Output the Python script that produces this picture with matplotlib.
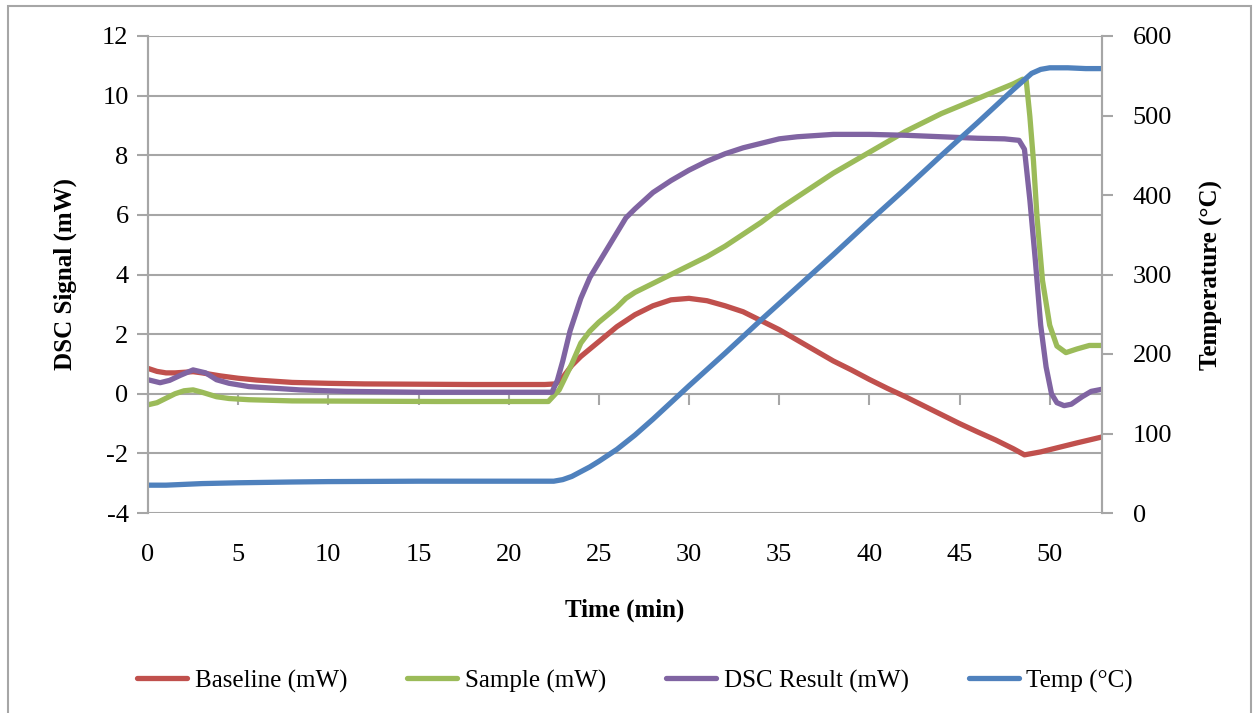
## DSC run: baseline, sample, result and furnace temperature vs time

import numpy as np
import matplotlib.pyplot as plt
from matplotlib.patches import Rectangle

plt.rcParams['font.family'] = ['Liberation Serif', 'DejaVu Serif']
plt.rcParams['axes.unicode_minus'] = False

## Data ~~~~~~~~~~~~~~~~~~~~~~~~~~~~~~~~~~~~~~~~~~~~~~~~~~~~~~~~~~~~~~~~~~~~~~~~~~~~~~

baseline_t = [0, 0.5, 1, 1.5, 2, 2.5, 3, 4, 5, 6, 8, 10, 12, 15, 18, 20, 22, 22.6,
              23, 23.5, 24, 25, 26, 27, 28, 29, 30, 31, 32, 33, 34, 35, 36, 37, 38,
              39, 40, 41, 42, 43, 44, 45, 46, 47, 48, 48.6, 49.5, 50.5, 51.5, 52.9]
baseline_mw = [0.85, 0.75, 0.7, 0.7, 0.72, 0.74, 0.7, 0.6, 0.52, 0.46, 0.38, 0.35,
               0.33, 0.32, 0.31, 0.31, 0.31, 0.33, 0.55, 0.95, 1.25, 1.75, 2.25,
               2.65, 2.95, 3.15, 3.2, 3.12, 2.95, 2.75, 2.45, 2.15, 1.8, 1.45, 1.1,
               0.8, 0.48, 0.18, -0.1, -0.4, -0.7, -1.0, -1.28, -1.55, -1.85, -2.05,
               -1.95, -1.8, -1.65, -1.45]

sample_t = [0, 0.5, 1, 1.5, 2, 2.5, 3, 3.8, 4.5, 5.6, 8, 12, 16, 20, 22.2, 22.8,
            23.5, 24, 24.5, 25, 26, 26.5, 27, 28, 29, 30, 31, 32, 33, 34, 35, 36,
            37, 38, 39, 40, 41, 42, 43, 44, 45, 46, 47, 48, 48.5, 48.7, 48.9, 49.1,
            49.3, 49.6, 50, 50.4, 50.9, 51.5, 52.2, 52.9]
sample_mw = [-0.37, -0.3, -0.15, 0.0, 0.1, 0.13, 0.05, -0.1, -0.16, -0.2, -0.24,
             -0.25, -0.26, -0.26, -0.26, 0.13, 1.0, 1.7, 2.1, 2.4, 2.9, 3.2, 3.4,
             3.7, 4.0, 4.3, 4.6, 4.95, 5.35, 5.75, 6.2, 6.6, 7.0, 7.4, 7.75, 8.1,
             8.45, 8.8, 9.1, 9.4, 9.65, 9.9, 10.15, 10.4, 10.55, 10.5, 9.3, 7.8,
             5.9, 3.8, 2.3, 1.6, 1.38, 1.5, 1.62, 1.62]

result_t = [0, 0.67, 1.2, 1.8, 2.5, 3.2, 3.8, 4.5, 5.6, 8.4, 11, 15, 20, 22.4,
            22.7, 23, 23.4, 24, 24.5, 25, 25.5, 26, 26.5, 27, 28, 29, 30, 31, 32,
            33, 34, 35, 36, 37, 38, 40, 42, 44, 46, 47.5, 48.3, 48.6, 48.9, 49.2,
            49.5, 49.8, 50.1, 50.4, 50.8, 51.2, 51.8, 52.3, 52.9]
result_mw = [0.47, 0.37, 0.45, 0.62, 0.8, 0.7, 0.47, 0.35, 0.24, 0.13, 0.08, 0.05,
             0.05, 0.05, 0.45, 1.1, 2.1, 3.2, 3.9, 4.4, 4.9, 5.4, 5.9, 6.2, 6.75,
             7.15, 7.5, 7.8, 8.05, 8.25, 8.4, 8.55, 8.62, 8.66, 8.7, 8.7, 8.67,
             8.62, 8.57, 8.55, 8.5, 8.2, 6.5, 4.5, 2.3, 0.9, 0.0, -0.3, -0.4, -0.35,
             -0.1, 0.08, 0.15]

temp_t = [0, 1, 2, 3, 5, 8, 10, 15, 20, 22.5, 23, 23.5, 24, 24.5, 25, 26, 27, 28,
          29, 30, 32, 34, 36, 38, 40, 42, 44, 46, 48, 48.5, 49, 49.5, 50, 51, 52,
          52.9]
temp_c = [35, 35, 36, 37, 38, 39, 39.5, 40, 40, 40, 42, 46, 52, 58, 65, 80, 98,
          118, 139, 160, 201, 243, 284, 325, 367, 408, 450, 491, 533, 543, 553,
          558, 560, 560, 559, 559]

x_ticks = [0, 5, 10, 15, 20, 25, 30, 35, 40, 45, 50]
mw_ticks = [-4, -2, 0, 2, 4, 6, 8, 10, 12]
temp_ticks = [0, 100, 200, 300, 400, 500, 600]

## Plot ~~~~~~~~~~~~~~~~~~~~~~~~~~~~~~~~~~~~~~~~~~~~~~~~~~~~~~~~~~~~~~~~~~~~~~~~~~~~~~

RED, GREEN, PURPLE, BLUE = '#C0504D', '#9BBB59', '#8064A2', '#4F81BD'
GRID = '#A6A6A6'
LW = 3.8

fig = plt.figure(figsize=(12.54, 7.13), dpi=100)
ax = fig.add_axes([148/1254, 1 - 513/713, (1102-148)/1254, (513-36)/713])
ax2 = ax.twinx()

l1, = ax.plot(baseline_t, baseline_mw, color=RED, lw=LW, solid_capstyle='round',
              label='Baseline (mW)')
l2, = ax.plot(sample_t, sample_mw, color=GREEN, lw=LW, solid_capstyle='round',
              label='Sample (mW)')
l3, = ax.plot(result_t, result_mw, color=PURPLE, lw=LW, solid_capstyle='round',
              label='DSC Result (mW)')
l4, = ax2.plot(temp_t, temp_c, color=BLUE, lw=LW, solid_capstyle='round',
               label='Temp (°C)')

ax.set_xlim(0, 52.9)
ax.set_ylim(-4, 12)
ax2.set_ylim(0, 600)

ax.set_yticks(mw_ticks)
ax2.set_yticks(temp_ticks)
ax.set_xticks(x_ticks)

ax.grid(axis='y', color=GRID, lw=1.5)
ax.set_axisbelow(True)

for a in (ax, ax2):
    for s in ('top', 'bottom'):
        a.spines[s].set_visible(False)
    a.spines['left'].set_color(GRID)
    a.spines['right'].set_color(GRID)
    a.spines['left'].set_linewidth(1.5)
    a.spines['right'].set_linewidth(1.5)

ax.tick_params(axis='y', direction='out', length=8, width=1.5, color=GRID,
               labelsize=19, pad=6)
ax2.tick_params(axis='y', direction='out', length=8, width=1.5, color=GRID,
                labelsize=19, pad=14)
ax.tick_params(axis='x', length=0, labelsize=19, pad=22)

# Excel puts the category axis at y = 0, with tick marks there
sec = ax.secondary_xaxis(0.25)
sec.set_xticks(x_ticks)
sec.set_xticklabels([])
sec.tick_params(axis='x', direction='out', length=8, width=1.5, color=GRID)
sec.spines['bottom'].set_visible(False)

ax.set_xlabel('Time (min)', fontsize=18, fontweight='bold', labelpad=24)
ax.set_ylabel('DSC Signal (mW)', fontsize=18, fontweight='bold', labelpad=18)
ax2.set_ylabel('Temperature (°C)', fontsize=18, fontweight='bold', labelpad=20,
               rotation=90)

fig.legend(handles=[l1, l2, l3, l4], loc='center', bbox_to_anchor=(635/1254, 1 - 681/713),
           ncol=4, frameon=False, fontsize=18, handlelength=2.0, handletextpad=0.3,
           columnspacing=2.4)

# grey frame around the whole chart
fig.patches.append(Rectangle((8/1254, -0.02), (1251-8)/1254, 1.02 - 6/713,
                             transform=fig.transFigure, fill=False,
                             edgecolor=GRID, lw=1.5))

fig.savefig('out.png', dpi=100)
